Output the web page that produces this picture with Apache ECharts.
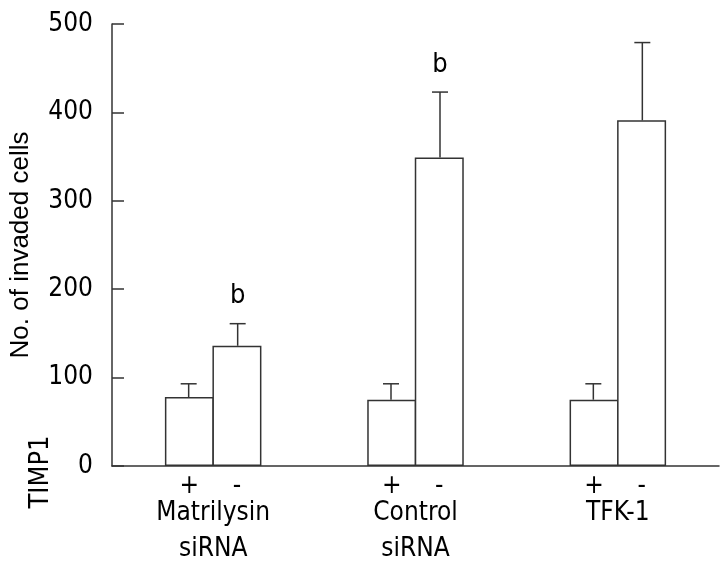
<!DOCTYPE html>
<html>
<head>
<meta charset="utf-8">
<script src="https://cdn.jsdelivr.net/npm/echarts@6/dist/echarts.min.js"></script>
<style>
html,body{margin:0;padding:0;background:#fff;}
#chart{width:726px;height:567px;}
</style>
</head>
<body>
<div id="chart"></div>
<script>
// ---- data ----
var categories = ['Matrilysin\nsiRNA', 'Control\nsiRNA', 'TFK-1'];
var plusValues = [78, 75, 75];
var plusSD = [15, 18, 18];
var minusValues = [136, 349, 391];
var minusSD = [25, 74, 88];
var minusSig = ['b', 'b', ''];
var yTicks = [0, 100, 200, 300, 400, 500];

var BAR_W = 49;
var LINE = '#333';
var FONT = '"DejaVu Sans Condensed", "DejaVu Sans", sans-serif';

function errSeries(values, sd, side, sig) {
  return {
    type: 'custom',
    z: 5,
    data: values.map(function (v, i) { return [i, v, v + sd[i], sig ? sig[i] : '']; }),
    renderItem: function (params, api) {
      var base = api.coord([api.value(0), api.value(1)]);
      var top = api.coord([api.value(0), api.value(2)]);
      var x = base[0] + side * BAR_W / 2;
      var children = [
        { type: 'line', shape: { x1: x, y1: base[1], x2: x, y2: top[1] }, style: { stroke: LINE, lineWidth: 1.5 } },
        { type: 'line', shape: { x1: x - 8, y1: top[1], x2: x + 8, y2: top[1] }, style: { stroke: LINE, lineWidth: 1.5 } }
      ];
      var s = api.value(3);
      if (s) {
        children.push({ type: 'text', x: x, y: top[1] - 14, style: { text: s, fontSize: 27, fontFamily: FONT, fill: '#000', align: 'center', verticalAlign: 'bottom' } });
      }
      return { type: 'group', children: children };
    }
  };
}

var chart = echarts.init(document.getElementById('chart'));
chart.setOption({
  animation: false,
  backgroundColor: '#fff',
  grid: { left: 112, right: 7, top: 24, bottom: 100 },
  xAxis: {
    type: 'category',
    data: categories,
    boundaryGap: true,
    axisLine: { lineStyle: { color: LINE, width: 1.5 } },
    axisTick: { inside: true, length: 11, lineStyle: { color: LINE, width: 1.5 } },
    axisLabel: { margin: 29, fontSize: 26, lineHeight: 36, fontFamily: FONT, color: '#000' },
    splitLine: { show: false }
  },
  yAxis: {
    type: 'value',
    min: yTicks[0],
    max: yTicks[yTicks.length - 1],
    interval: 100,
    name: 'No. of invaded cells',
    nameLocation: 'middle',
    nameRotate: 90,
    nameGap: 78,
    nameTextStyle: { fontSize: 26, fontFamily: '"Liberation Sans", Arial, sans-serif', color: '#000' },
    axisLine: { show: true, lineStyle: { color: LINE, width: 1.5 } },
    axisTick: { show: true, inside: true, length: 12, lineStyle: { color: LINE, width: 1.5 } },
    axisLabel: { margin: 19, fontSize: 26, fontFamily: FONT, color: '#000' },
    splitLine: { show: false }
  },
  graphic: [{
    type: 'text', x: 41, y: 472, rotation: Math.PI / 2,
    style: { text: 'TIMP1', fontSize: 27, fontFamily: FONT, fill: '#000', align: 'center', verticalAlign: 'middle' }
  }],
  series: [
    {
      type: 'bar', name: '+', data: plusValues, barWidth: BAR_W, barGap: '-3%',
      itemStyle: { color: '#fff', borderColor: LINE, borderWidth: 1.5 },
      label: { show: true, position: 'bottom', distance: 7, formatter: '+', fontSize: 26, fontFamily: FONT, color: '#000' }
    },
    {
      type: 'bar', name: '-', data: minusValues, barWidth: BAR_W, barGap: '-3%',
      itemStyle: { color: '#fff', borderColor: LINE, borderWidth: 1.5 },
      label: { show: true, position: 'bottom', distance: 7, formatter: '-', fontSize: 26, fontFamily: FONT, color: '#000' }
    },
    errSeries(plusValues, plusSD, -1, null),
    errSeries(minusValues, minusSD, 1, minusSig)
  ]
});
</script>
</body>
</html>
